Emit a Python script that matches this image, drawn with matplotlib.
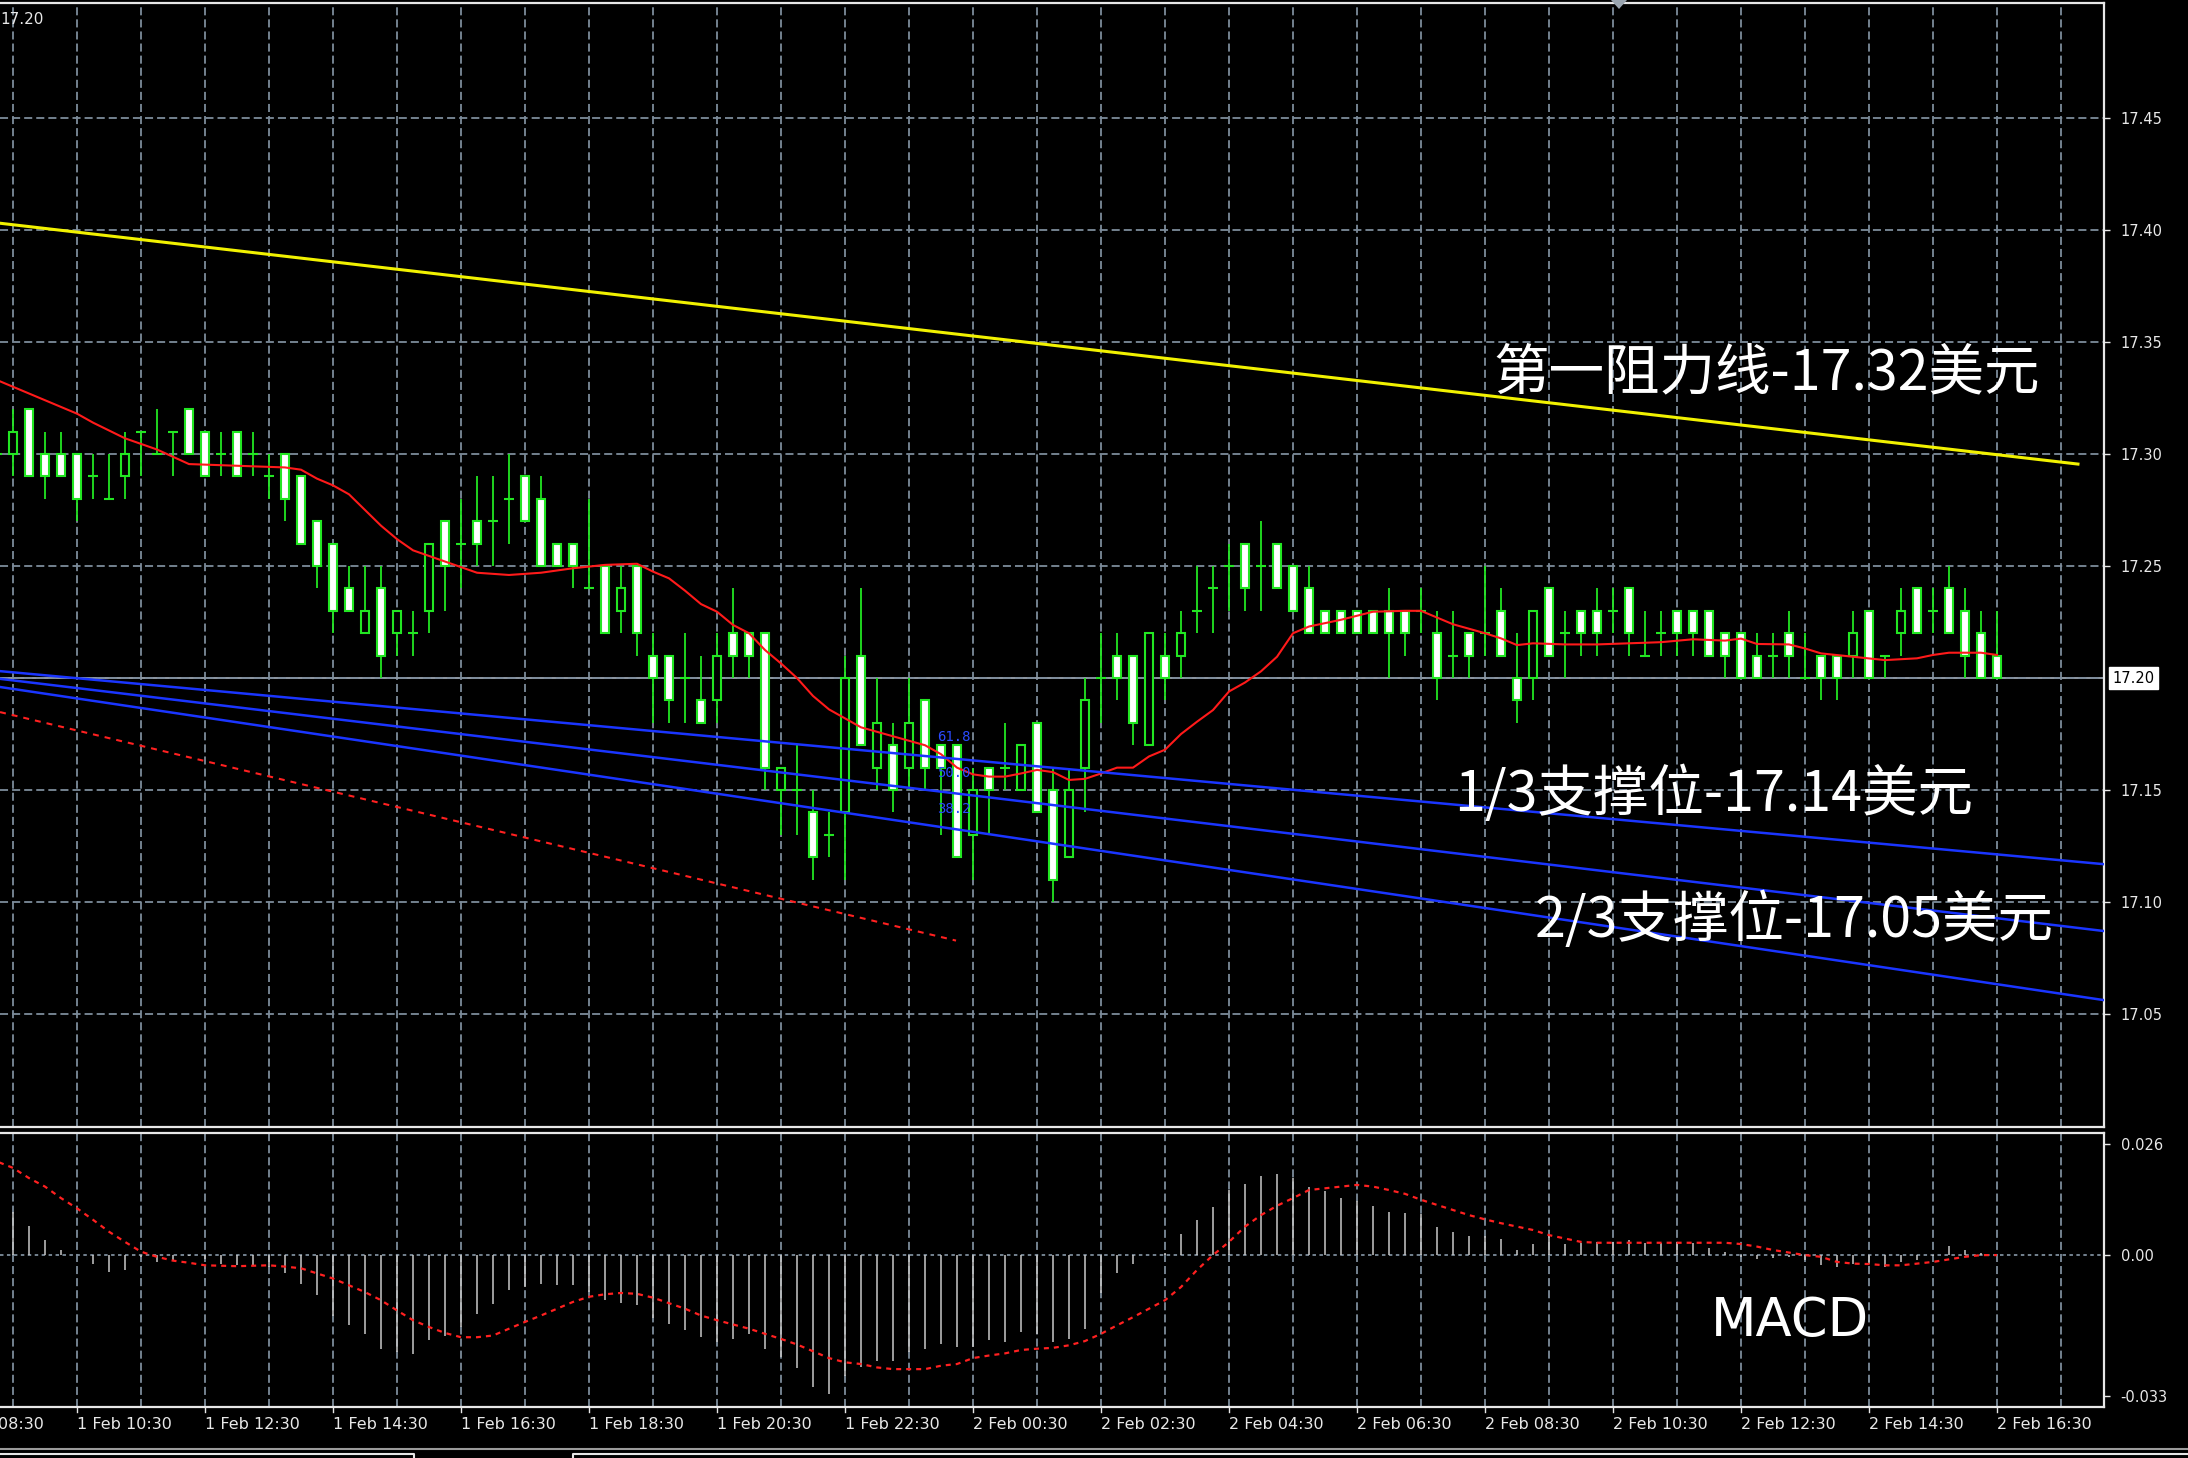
import matplotlib
matplotlib.use('Agg')
import matplotlib.pyplot as plt
import matplotlib.transforms as mtransforms
from matplotlib.patches import Polygon
from matplotlib.lines import Line2D
import numpy as np

plt.rcParams['font.family'] = ['DejaVu Sans']
plt.rcParams['lines.scale_dashes'] = False

# 15 minute candles, index 0 = 1 Feb 09:15 ... index 125 = 2 Feb 16:30
opens = [17.30, 17.30, 17.32, 17.30, 17.30, 17.30, 17.29, 17.28, 17.29, 17.31,
         17.30, 17.31, 17.32, 17.31, 17.30, 17.31, 17.30, 17.29, 17.30, 17.29,
         17.27, 17.26, 17.24, 17.22, 17.24, 17.22, 17.22, 17.23, 17.27, 17.26,
         17.27, 17.27, 17.28, 17.29, 17.28, 17.26, 17.26, 17.24, 17.25, 17.23,
         17.25, 17.21, 17.21, 17.20, 17.19, 17.19, 17.22, 17.22, 17.22, 17.15,
         17.15, 17.14, 17.13, 17.14, 17.21, 17.16, 17.17, 17.16, 17.19, 17.17,
         17.17, 17.13, 17.16, 17.16, 17.15, 17.18, 17.15, 17.12, 17.16, 17.20,
         17.21, 17.21, 17.17, 17.21, 17.21, 17.23, 17.24, 17.25, 17.26, 17.25,
         17.26, 17.25, 17.24, 17.23, 17.23, 17.23, 17.23, 17.23, 17.23, 17.23,
         17.22, 17.21, 17.22, 17.22, 17.23, 17.20, 17.20, 17.24, 17.22, 17.23,
         17.23, 17.23, 17.24, 17.21, 17.22, 17.23, 17.23, 17.23, 17.22, 17.22,
         17.21, 17.21, 17.22, 17.20, 17.21, 17.21, 17.21, 17.23, 17.21, 17.22,
         17.24, 17.23, 17.24, 17.23, 17.22, 17.21]
highs = [17.31, 17.32, 17.32, 17.31, 17.31, 17.30, 17.30, 17.30, 17.31, 17.31,
         17.32, 17.31, 17.32, 17.31, 17.31, 17.31, 17.31, 17.30, 17.30, 17.29,
         17.27, 17.26, 17.25, 17.25, 17.25, 17.23, 17.23, 17.26, 17.27, 17.28,
         17.29, 17.29, 17.30, 17.29, 17.29, 17.26, 17.26, 17.28, 17.25, 17.25,
         17.25, 17.22, 17.21, 17.22, 17.21, 17.22, 17.24, 17.22, 17.22, 17.16,
         17.17, 17.15, 17.14, 17.21, 17.24, 17.20, 17.18, 17.20, 17.19, 17.17,
         17.17, 17.16, 17.16, 17.18, 17.17, 17.18, 17.16, 17.16, 17.20, 17.22,
         17.22, 17.21, 17.22, 17.22, 17.23, 17.25, 17.25, 17.26, 17.26, 17.27,
         17.26, 17.25, 17.25, 17.23, 17.23, 17.23, 17.23, 17.24, 17.23, 17.24,
         17.23, 17.23, 17.22, 17.25, 17.24, 17.22, 17.23, 17.24, 17.23, 17.23,
         17.24, 17.24, 17.24, 17.23, 17.23, 17.23, 17.23, 17.23, 17.22, 17.22,
         17.22, 17.22, 17.23, 17.22, 17.21, 17.21, 17.23, 17.23, 17.21, 17.24,
         17.24, 17.24, 17.25, 17.24, 17.23, 17.23]
lows = [17.29, 17.29, 17.29, 17.28, 17.29, 17.27, 17.28, 17.28, 17.28, 17.29,
        17.30, 17.29, 17.30, 17.29, 17.29, 17.29, 17.29, 17.28, 17.27, 17.26,
        17.24, 17.22, 17.23, 17.22, 17.20, 17.21, 17.21, 17.22, 17.23, 17.24,
        17.25, 17.25, 17.26, 17.27, 17.25, 17.25, 17.24, 17.24, 17.22, 17.22,
        17.21, 17.18, 17.18, 17.18, 17.18, 17.18, 17.20, 17.20, 17.15, 17.13,
        17.13, 17.11, 17.12, 17.11, 17.17, 17.15, 17.14, 17.15, 17.15, 17.13,
        17.12, 17.11, 17.13, 17.15, 17.15, 17.14, 17.10, 17.12, 17.14, 17.18,
        17.19, 17.17, 17.17, 17.19, 17.20, 17.22, 17.22, 17.23, 17.23, 17.23,
        17.24, 17.23, 17.22, 17.22, 17.22, 17.22, 17.22, 17.20, 17.21, 17.22,
        17.19, 17.20, 17.20, 17.21, 17.21, 17.18, 17.19, 17.21, 17.20, 17.21,
        17.21, 17.22, 17.21, 17.21, 17.21, 17.21, 17.21, 17.21, 17.20, 17.20,
        17.20, 17.20, 17.20, 17.20, 17.19, 17.19, 17.20, 17.20, 17.20, 17.21,
        17.22, 17.22, 17.22, 17.20, 17.20, 17.20]
closes = [17.30, 17.31, 17.29, 17.29, 17.29, 17.28, 17.29, 17.28, 17.30, 17.31,
          17.30, 17.31, 17.30, 17.29, 17.30, 17.29, 17.30, 17.29, 17.28, 17.26,
          17.25, 17.23, 17.23, 17.23, 17.21, 17.23, 17.22, 17.26, 17.25, 17.26,
          17.26, 17.27, 17.28, 17.27, 17.25, 17.25, 17.25, 17.24, 17.22, 17.24,
          17.22, 17.20, 17.19, 17.20, 17.18, 17.21, 17.21, 17.21, 17.16, 17.16,
          17.15, 17.12, 17.13, 17.20, 17.17, 17.18, 17.15, 17.18, 17.16, 17.16,
          17.12, 17.15, 17.15, 17.16, 17.17, 17.14, 17.11, 17.15, 17.19, 17.20,
          17.20, 17.18, 17.22, 17.20, 17.22, 17.23, 17.24, 17.25, 17.24, 17.25,
          17.24, 17.23, 17.22, 17.22, 17.22, 17.22, 17.22, 17.22, 17.22, 17.23,
          17.20, 17.21, 17.21, 17.22, 17.21, 17.19, 17.23, 17.21, 17.22, 17.22,
          17.22, 17.23, 17.22, 17.21, 17.22, 17.22, 17.22, 17.21, 17.21, 17.20,
          17.20, 17.21, 17.21, 17.20, 17.20, 17.20, 17.22, 17.20, 17.21, 17.23,
          17.22, 17.23, 17.22, 17.21, 17.20, 17.20]

# moving average (red), read at candle indices
ma_idx = [0, 2, 4, 5, 6, 8, 10, 12, 14, 16, 18, 19, 20, 21, 22, 23, 24, 25, 26,
          28, 30, 32, 34, 36, 38, 40, 41, 42, 43, 44, 45, 46, 47, 48, 49, 50, 51,
          52, 53, 54, 56, 58, 59, 60, 61, 62, 63, 64, 65, 66, 67, 68, 69, 70, 71,
          72, 73, 74, 75, 76, 77, 78, 79, 80, 81, 82, 84, 86, 88, 89, 90, 91, 92,
          93, 94, 95, 96, 98, 100, 102, 104, 106, 108, 109, 110, 112, 113, 114,
          116, 118, 120, 121, 122, 124, 125]
ma_val = [17.333, 17.327, 17.321, 17.318, 17.314, 17.307, 17.302, 17.2955, 17.295,
          17.2945, 17.294, 17.293, 17.289, 17.286, 17.282, 17.275, 17.268, 17.262,
          17.257, 17.252, 17.247, 17.246, 17.247, 17.249, 17.2505, 17.251, 17.2475,
          17.2445, 17.239, 17.233, 17.2296, 17.2237, 17.220, 17.2125, 17.2065,
          17.200, 17.192, 17.186, 17.182, 17.178, 17.174, 17.170, 17.166, 17.160,
          17.157, 17.156, 17.156, 17.1574, 17.159, 17.158, 17.1545, 17.155, 17.1574,
          17.160, 17.160, 17.165, 17.168, 17.175, 17.1805, 17.1857, 17.194, 17.198,
          17.203, 17.2095, 17.220, 17.223, 17.226, 17.2296, 17.230, 17.230, 17.227,
          17.224, 17.222, 17.220, 17.2177, 17.2147, 17.2155, 17.215, 17.215,
          17.2155, 17.216, 17.2173, 17.2167, 17.2176, 17.2152, 17.215, 17.2132,
          17.211, 17.2095, 17.208, 17.2088, 17.2103, 17.2113, 17.2113, 17.2103]

# MACD main (histogram) and signal (dotted red)
macd_hist = [0.0120, 0.0102, 0.0068, 0.0035, 0.0012, 0.0001, -0.0020, -0.0039, -0.0034, -0.0004,
             -0.0016, -0.0012, -0.0002, -0.0010, -0.0020, -0.0024, -0.0026, -0.0028, -0.0043, -0.0067,
             -0.0094, -0.0142, -0.0165, -0.0185, -0.0220, -0.0228, -0.0232, -0.0199, -0.0189, -0.0169,
             -0.0138, -0.0114, -0.0083, -0.0075, -0.0067, -0.0071, -0.0071, -0.0087, -0.0106, -0.0113,
             -0.0118, -0.0147, -0.0161, -0.0177, -0.0193, -0.0205, -0.0197, -0.0185, -0.0220, -0.0240,
             -0.0266, -0.0311, -0.0327, -0.0284, -0.0264, -0.0248, -0.0248, -0.0228, -0.0220, -0.0210,
             -0.0216, -0.0216, -0.0200, -0.0205, -0.0180, -0.0185, -0.0205, -0.0197, -0.0173, -0.0090,
             -0.0043, -0.0020, 0.0000, 0.0004, 0.0050, 0.0083, 0.0114, 0.0153, 0.0168, 0.0187,
             0.0191, 0.0181, 0.0161, 0.0150, 0.0134, 0.0126, 0.0116, 0.0102, 0.0098, 0.0097,
             0.0067, 0.0055, 0.0045, 0.0045, 0.0039, 0.0012, 0.0026, 0.0047, 0.0026, 0.0029,
             0.0031, 0.0031, 0.0035, 0.0028, 0.0028, 0.0031, 0.0029, 0.0016, 0.0008, -0.0004,
             -0.0008, -0.0006, -0.0004, -0.0012, -0.0024, -0.0028, -0.0020, -0.0020, -0.0028, -0.0016,
             -0.0012, -0.0002, 0.0021, 0.0012, 0.0004, 0.0000]
macd_signal = [0.0220, 0.0205, 0.0181, 0.0161, 0.0134, 0.0110, 0.0083, 0.0055, 0.0031, 0.0008,
               -0.0004, -0.0013, -0.0018, -0.0024, -0.0025, -0.0026, -0.0025, -0.0024, -0.0027, -0.0031,
               -0.0043, -0.0055, -0.0071, -0.0087, -0.0106, -0.0130, -0.0153, -0.0169, -0.0183, -0.0193,
               -0.0193, -0.0189, -0.0173, -0.0157, -0.0142, -0.0126, -0.0110, -0.0098, -0.0092, -0.0089,
               -0.0091, -0.0100, -0.0113, -0.0126, -0.0142, -0.0153, -0.0163, -0.0173, -0.0185, -0.0197,
               -0.0210, -0.0226, -0.0242, -0.0252, -0.0256, -0.0264, -0.0268, -0.0268, -0.0268, -0.0260,
               -0.0256, -0.0242, -0.0236, -0.0231, -0.0223, -0.0220, -0.0218, -0.0212, -0.0202, -0.0185,
               -0.0165, -0.0146, -0.0126, -0.0106, -0.0075, -0.0035, 0.0000, 0.0031, 0.0067, 0.0094,
               0.0116, 0.0134, 0.0153, 0.0157, 0.0161, 0.0165, 0.0161, 0.0153, 0.0144, 0.0130,
               0.0118, 0.0106, 0.0094, 0.0084, 0.0075, 0.0067, 0.0059, 0.0047, 0.0039, 0.0031,
               0.0029, 0.0029, 0.0029, 0.0029, 0.0029, 0.0029, 0.0029, 0.0029, 0.0029, 0.0026,
               0.0020, 0.0012, 0.0006, 0.0000, -0.0004, -0.0016, -0.0020, -0.0021, -0.0024, -0.0024,
               -0.0020, -0.0016, -0.0010, -0.0004, 0.0000, 0.0000]

# drawn objects: (candle index, price) anchors
resist_idx, resist_px = [0.19, 130.06], [17.403, 17.2955]
blue_idx = [0, 132]
blue_a = [17.2032, 17.1167]
blue_b = [17.1998, 17.0868]
blue_c = [17.1962, 17.0559]
reddash_idx, reddash_px = [0.19, 59.94], [17.1848, 17.0828]
fib_labels = ['61.8', '50.0', '38.2']
fib_px = [17.1737, 17.1576, 17.1415]

price_ticks = [17.05, 17.10, 17.15, 17.25, 17.30, 17.35, 17.40, 17.45]
grid_prices = [17.05, 17.10, 17.15, 17.20, 17.25, 17.30, 17.35, 17.40, 17.45]
last_price = 17.20
time_pos = [-3, 5, 13, 21, 29, 37, 45, 53, 61, 69, 77, 85, 93, 101, 109, 117, 125]
time_labels = ['1 Feb 08:30', '1 Feb 10:30', '1 Feb 12:30', '1 Feb 14:30', '1 Feb 16:30',
               '1 Feb 18:30', '1 Feb 20:30', '1 Feb 22:30', '2 Feb 00:30', '2 Feb 02:30',
               '2 Feb 04:30', '2 Feb 06:30', '2 Feb 08:30', '2 Feb 10:30', '2 Feb 12:30',
               '2 Feb 14:30', '2 Feb 16:30']
macd_ticks = [0.026, 0.00, -0.033]
macd_tick_labels = ['0.026', '0.00', '-0.033']

GREEN = '#22E622'
GRID = '#7D8C9B'
WHITE = '#E8E8E8'
DASH = (5.8, 2.9)
CJK = ['Noto Sans CJK SC', 'DejaVu Sans']

fig = plt.figure(figsize=(21.88, 14.58), dpi=100, facecolor='black')
ax = fig.add_axes([0, 0.22702, 0.96161, 0.77092], facecolor='black')
axm = fig.add_axes([0, 0.03498, 0.96161, 0.18793], facecolor='black', sharex=ax)

x0, x1 = 3 / 16, 2107 / 16
ax.set_xlim(x0, x1)
ax.set_ylim(16.9996, 17.5013)
axm.set_ylim(-0.0357, 0.0287)

for a in (ax, axm):
    a.spines['left'].set_visible(False)
    for s in ('top', 'right', 'bottom'):
        a.spines[s].set_color(WHITE)
        a.spines[s].set_linewidth(1.6)
    a.tick_params(axis='x', which='both', bottom=False, labelbottom=False)
    a.yaxis.tick_right()
    a.tick_params(axis='y', colors=WHITE, length=4, width=1, pad=8, labelsize=10.5)
    # hourly vertical grid
    for g in np.arange(1, 130, 4):
        a.axvline(g, color=GRID, lw=1.3, dashes=DASH, zorder=1)

ax.set_yticks(price_ticks)
ax.set_yticklabels(['%.2f' % p for p in price_ticks])
ax.axhline(last_price, color='#8F99A4', lw=1.4, zorder=1)
for p in grid_prices:
    ax.axhline(p, color=GRID, lw=1.3, dashes=DASH, zorder=1)

# candles
idx = np.arange(len(opens))
o, h, l, c = (np.array(v) for v in (opens, highs, lows, closes))
ax.vlines(idx, l, h, color=GREEN, lw=1.3, zorder=3)
bear = c < o
bull = c > o
doji = c == o
ax.bar(idx[bear], (o - c)[bear], bottom=c[bear], width=0.52, facecolor='white',
       edgecolor=GREEN, linewidth=1.5, zorder=4)
ax.bar(idx[bull], (c - o)[bull], bottom=o[bull], width=0.52, facecolor='black',
       edgecolor=GREEN, linewidth=1.5, zorder=4)
ax.hlines(c[doji], idx[doji] - 0.3, idx[doji] + 0.3, color=GREEN, lw=1.5, zorder=4)

ax.plot(ma_idx, ma_val, color='#FF1A1A', lw=1.5, zorder=5)

# trend lines
ax.plot(resist_idx, resist_px, color='#F2F200', lw=2.2, zorder=6)
for bl in (blue_a, blue_b, blue_c):
    ax.plot(blue_idx, bl, color='#1A35FF', lw=1.8, zorder=6)
ax.plot(reddash_idx, reddash_px, color='#FF2020', lw=1.5, dashes=(4.3, 4.3), zorder=6)
for lab, p in zip(fib_labels, fib_px):
    ax.text(58.75, p, lab, color='#2B4BFF', fontsize=10, family='DejaVu Sans Mono',
            ha='left', va='center', zorder=7)

# annotations
ax.text(93.5, 17.3357, '第一阻力线-17.32美元', color='white', fontsize=40,
        family=CJK, ha='left', va='center', zorder=8)
ax.text(91.1, 17.1478, '1/3支撑位-17.14美元', color='white', fontsize=40,
        family=CJK, ha='left', va='center', zorder=8)
ax.text(96.1, 17.0915, '2/3支撑位-17.05美元', color='white', fontsize=40,
        family=CJK, ha='left', va='center', zorder=8)

# last price box on the price scale
trans = mtransforms.blended_transform_factory(ax.transAxes, ax.transData)
ax.text(1.004, last_price, '17.20', transform=trans, color='black', fontsize=10.5,
        ha='left', va='center', clip_on=False,
        bbox=dict(boxstyle='square,pad=0.25', facecolor='white', edgecolor='white'))

# MACD panel
axm.vlines(idx, 0, macd_hist, color='#C8C8C8', lw=1.1, zorder=3)
axm.plot(idx, macd_signal, color='#FF2020', lw=1.6, dashes=(3.6, 3.6), zorder=4)
axm.axhline(0, color=GRID, lw=1.3, dashes=(2.5, 2.5), zorder=1)
axm.set_yticks(macd_ticks)
axm.set_yticklabels(macd_tick_labels)
axm.text(107.1, -0.0156, 'MACD', color='white', fontsize=38, ha='left', va='center', zorder=8)

# time axis labels
tx = mtransforms.blended_transform_factory(axm.transData, axm.transAxes)
for pos, lab in zip(time_pos, time_labels):
    axm.plot([pos, pos], [0, -0.02], transform=tx, color=WHITE, lw=1, clip_on=False)
    axm.text(pos, -0.035, lab, transform=tx, color=WHITE, fontsize=11.5,
             ha='left', va='top', clip_on=False)

# window chrome
W, H = 2188.0, 1458.0
fig.text(0.0, 1 - 19 / H, '17.20', color=WHITE, fontsize=11, ha='left', va='center')
fig.patches.append(Polygon([(1611 / W, 1.0), (1627 / W, 1.0), (1619 / W, 1 - 9 / H)],
                           closed=True, transform=fig.transFigure,
                           facecolor='#9AA5B0', edgecolor='none'))
fig.lines.append(Line2D([0, 1], [1 - 1449 / H] * 2, transform=fig.transFigure,
                        color='#9A9A9A', lw=1.5))
fig.lines.append(Line2D([0, 414 / W, 414 / W], [1 - 1454 / H, 1 - 1454 / H, 0],
                        transform=fig.transFigure, color='#E6E6E6', lw=1.5))
fig.lines.append(Line2D([573 / W, 573 / W, 1], [0, 1 - 1454 / H, 1 - 1454 / H],
                        transform=fig.transFigure, color='#E6E6E6', lw=1.5))

fig.savefig('out.png', dpi=100, facecolor='black')
